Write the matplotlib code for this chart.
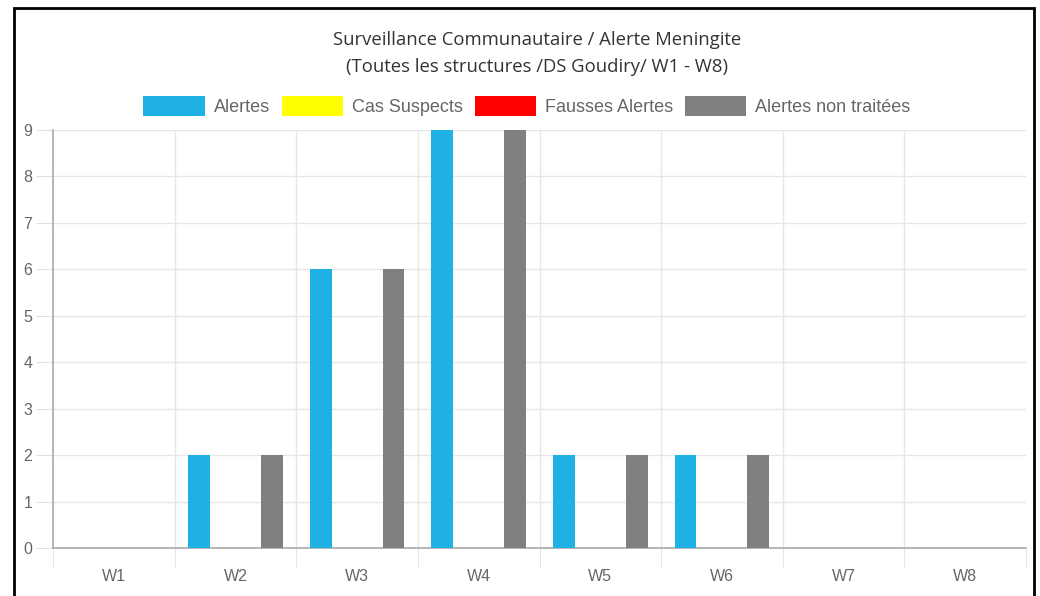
import matplotlib
matplotlib.use("Agg")
import matplotlib.pyplot as plt
from matplotlib.patches import Patch, Rectangle
import numpy as np

weeks = ["W1", "W2", "W3", "W4", "W5", "W6", "W7", "W8"]
series = ["Alertes", "Cas Suspects", "Fausses Alertes", "Alertes non traitées"]
alertes = [0, 2, 6, 9, 2, 2, 0, 0]
cas_suspects = [0, 0, 0, 0, 0, 0, 0, 0]
fausses_alertes = [0, 0, 0, 0, 0, 0, 0, 0]
non_traitees = [0, 2, 6, 9, 2, 2, 0, 0]
colors = ["#1fb0e4", "#ffff00", "#ff0000", "#808080"]

W, H = 1040, 596
fig = plt.figure(figsize=(W / 100, H / 100), dpi=100)
ax = fig.add_axes([53 / W, (H - 548) / H, (1026 - 53) / W, (548 - 130) / H])

x = np.arange(len(weeks))
slot = 0.8 / 4
bw = slot * 0.9
for i, (vals, c) in enumerate(zip([alertes, cas_suspects, fausses_alertes, non_traitees], colors)):
    ax.bar(x - 0.4 + slot * (i + 0.5), vals, bw, color=c, zorder=3)

ax.set_xlim(-0.5, len(weeks) - 0.5)
ax.set_ylim(0, 9)
ax.set_yticks(range(10))
ax.set_xticks(x)
ax.set_xticklabels(weeks)
ax.set_xticks(np.arange(-0.5, len(weeks)), minor=True)
for yv in range(1, 10):
    ax.axhline(yv, color="#e6e6e6", lw=1, zorder=1)
for xv in np.arange(0.5, len(weeks) - 0.5):
    ax.axvline(xv, color="#e6e6e6", lw=1, zorder=1)
for s in ("top", "right"):
    ax.spines[s].set_visible(False)
for s in ("left", "bottom"):
    ax.spines[s].set_color("#b0b0b0")
    ax.spines[s].set_linewidth(1.3)
ax.tick_params(axis="y", length=12, color="#e0e0e0", labelcolor="#666666", labelsize=11.5, pad=3)
ax.tick_params(axis="x", which="major", length=0, labelcolor="#666666", labelsize=11.5, pad=15)
ax.tick_params(axis="x", which="minor", length=14, color="#e0e0e0")
for t in ax.get_xticklabels() + ax.get_yticklabels():
    t.set_fontfamily("Liberation Sans")

fig.text(537 / W, 1 - 40 / H, "Surveillance Communautaire / Alerte Meningite",
         ha="center", va="center", fontsize=13.3, color="#333333", family="Open Sans")
fig.text(537 / W, 1 - 67 / H, "(Toutes les structures /DS Goudiry/ W1 - W8)",
         ha="center", va="center", fontsize=13.3, color="#333333", family="Open Sans")

handles = [Patch(facecolor=c, edgecolor="none", label=s) for s, c in zip(series, colors)]
fig.legend(handles=handles, loc="center", bbox_to_anchor=(527 / W, 1 - 106 / H), ncol=4,
           frameon=False, prop={"family": "Liberation Sans", "size": 13},
           handlelength=3.4, handleheight=1.4, handletextpad=0.5, columnspacing=0.65,
           labelcolor="#666666", borderpad=0)

fig.add_artist(Rectangle((14 / W, -0.05), (1034 - 14) / W, 1.05 - 8 / H,
                         transform=fig.transFigure, fill=False, ec="black", lw=2))

fig.savefig("out.png", dpi=100)
